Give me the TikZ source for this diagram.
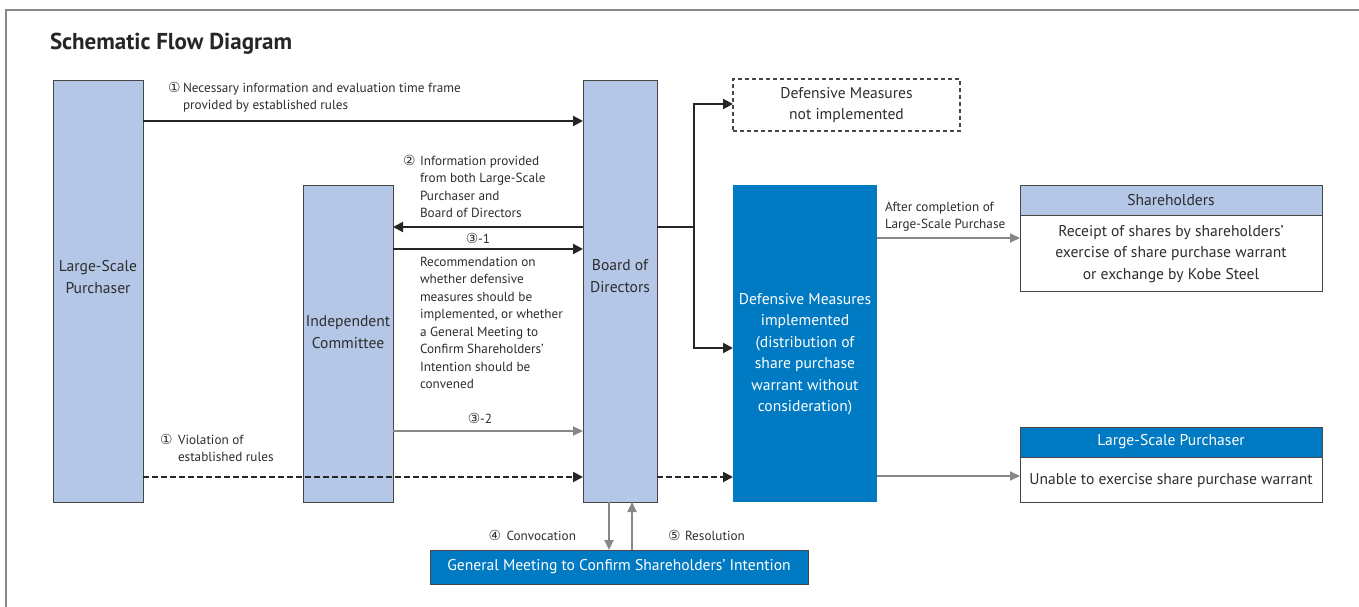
\documentclass[tikz,border=0pt]{standalone}
\usepackage{fontspec}
\setmainfont{PT Sans}
\newfontfamily\symfont{DejaVu Sans}[Scale=1.05]
\usetikzlibrary{arrows.meta}
\definecolor{lblue}{RGB}{180,199,231}
\definecolor{dblue}{RGB}{0,122,194}
\definecolor{txt}{RGB}{45,45,45}
\definecolor{arrgray}{RGB}{135,135,135}
\definecolor{edge}{RGB}{70,70,70}
\newcommand\circnum[2][15pt]{\makebox[#1][l]{\symfont #2}}
\begin{document}
\begin{tikzpicture}[x=1pt,y=-1pt,
  every node/.style={text=txt, inner sep=0pt, outer sep=0pt},
  boxfont/.style={font=\fontsize{15.6}{21.5}\selectfont},
  lblfont/.style={font=\fontsize{13.2}{17.5}\selectfont},
  lbox/.style={draw=edge, line width=0.8pt, fill=lblue, anchor=north west},
  bbox/.style={fill=dblue, anchor=north west},
  wbox/.style={draw=edge, line width=0.8pt, fill=white, anchor=north west},
  dashbox/.style={draw=edge, line width=1.2pt, dash pattern=on 4pt off 3pt, anchor=north west, boxfont, align=center},
  intext/.style={boxfont, align=center},
  lbl/.style={lblfont, align=left, anchor=north west},
  barr/.style={line width=2pt, black!85, -{Triangle[length=10pt,width=10pt]}},
  bline/.style={line width=2pt, black!85},
  garr/.style={line width=2pt, arrgray, -{Triangle[length=10pt,width=9pt]}},
  darr/.style={line width=2pt, black!85, dash pattern=on 6pt off 3pt, -{Triangle[length=10pt,width=10pt]}},
]
\useasboundingbox (0,0) rectangle (1359,607);
% frame
\draw[arrgray, line width=2pt] (6,607) -- (6,10) -- (1359,10);
% title
\node[anchor=west, font=\bfseries\fontsize{23}{26}\selectfont, text=black!85] (title) at (50,44) {Schematic Flow Diagram};

% main boxes
\node[lbox, minimum width=90pt, minimum height=422pt] (lsp) at (53,80) {};
\node[lbox, minimum width=90pt, minimum height=317pt] (ic) at (303,185) {};
\node[lbox, minimum width=74pt, minimum height=422pt] (bod) at (583,80) {};
\node[dashbox, minimum width=227pt, minimum height=52pt] (dmn) at (733,79) {Defensive Measures\\not implemented};
\node[bbox, minimum width=144pt, minimum height=317pt] (dmi) at (733,185) {};

\node[intext] (lsptext) at (98,277) {Large-Scale\\Purchaser};
\node[intext] (ictext) at (348,332) {Independent\\Committee};
\node[intext] (bodtext) at (620,276) {Board of\\Directors};
\node[intext, text=white] (dmitext) at (805,354) {Defensive Measures\\implemented\\(distribution of\\share purchase\\warrant without\\consideration)};

% right boxes
\node[lbox, minimum width=302pt, minimum height=30pt, boxfont] (shh) at (1020,185) {};
\node[boxfont] (shhtext) at (shh.center) {Shareholders};
\node[wbox, minimum width=302pt, minimum height=76pt] (shb) at (1020,215) {};
\node[intext] (shbtext) at (1171,254) {Receipt of shares by shareholders’\\exercise of share purchase warrant\\or exchange by Kobe Steel};
\node[bbox, draw=edge, line width=0.8pt, minimum width=302pt, minimum height=30pt] (lph) at (1020,427) {};
\node[boxfont, text=white] (lphtext) at (lph.center) {Large-Scale Purchaser};
\node[wbox, minimum width=302pt, minimum height=45pt] (lpb) at (1020,457) {};
\node[boxfont] (lpbtext) at (1171,481) {Unable to exercise share purchase warrant};

% general meeting
\node[bbox, draw=edge, line width=0.8pt, minimum width=378pt, minimum height=34pt] (gm) at (430,550) {};
\node[boxfont, text=white] (gmtext) at (gm.center) {General Meeting to Confirm Shareholders’ Intention};

% labels
\node[lbl] (l1) at (168,82) {\circnum{①}Necessary information and evaluation time frame\\\hspace*{15pt}provided by established rules};
\node[lbl] (l2) at (403,155) {\circnum[17pt]{②}Information provided\\\hspace*{17pt}from both Large-Scale\\\hspace*{17pt}Purchaser and\\\hspace*{17pt}Board of Directors};
\node[lblfont] (l31) at (478,238) {{\symfont ③}-1};
\node[lbl] (lrec) at (420,257) {Recommendation on\\whether defensive\\measures should be\\implemented, or whether\\a General Meeting to\\Confirm Shareholders’\\Intention should be\\convened};
\node[lblfont] (l32) at (480,418) {{\symfont ③}-2};
\node[lbl] (lviol) at (160,434) {\circnum[18pt]{①}Violation of\\\hspace*{18pt}established rules};
\node[lbl] (lafter) at (885,202) {After completion of\\Large-Scale Purchase};
\node[lblfont, anchor=east] (lconv) at (576,535) {\circnum[18pt]{④}Convocation};
\node[lblfont, anchor=west] (lres) at (668,535) {\circnum[17pt]{⑤}Resolution};

% connectors
\draw[barr] (lsp.east |- 0,121) -- (bod.west |- 0,121);
\draw[barr] (bod.west |- 0,227) -- (ic.east |- 0,227);
\draw[barr] (ic.east |- 0,249) -- (bod.west |- 0,249);
\draw[garr] (ic.east |- 0,431) -- (bod.west |- 0,431);
\draw[darr] (lsp.east |- 0,477) -- (bod.west |- 0,477);
\draw[darr] (bod.east |- 0,477) -- (dmi.west |- 0,477);
\coordinate (br) at (694,227);
\draw[bline] (bod.east |- br) -- (br);
\draw[barr] (br) |- (dmn.west |- 0,104);
\draw[barr] (br) |- (dmi.west |- 0,348);
\draw[garr] (dmi.east |- 0,238) -- (shb.west |- 0,238);
\draw[garr] (dmi.east |- 0,476) -- (lpb.west |- 0,476);
\draw[garr] (bod.south -| 609,0) -- (gm.north -| 609,0);
\draw[garr] (gm.north -| 632,0) -- (bod.south -| 632,0);
\end{tikzpicture}
\end{document}
